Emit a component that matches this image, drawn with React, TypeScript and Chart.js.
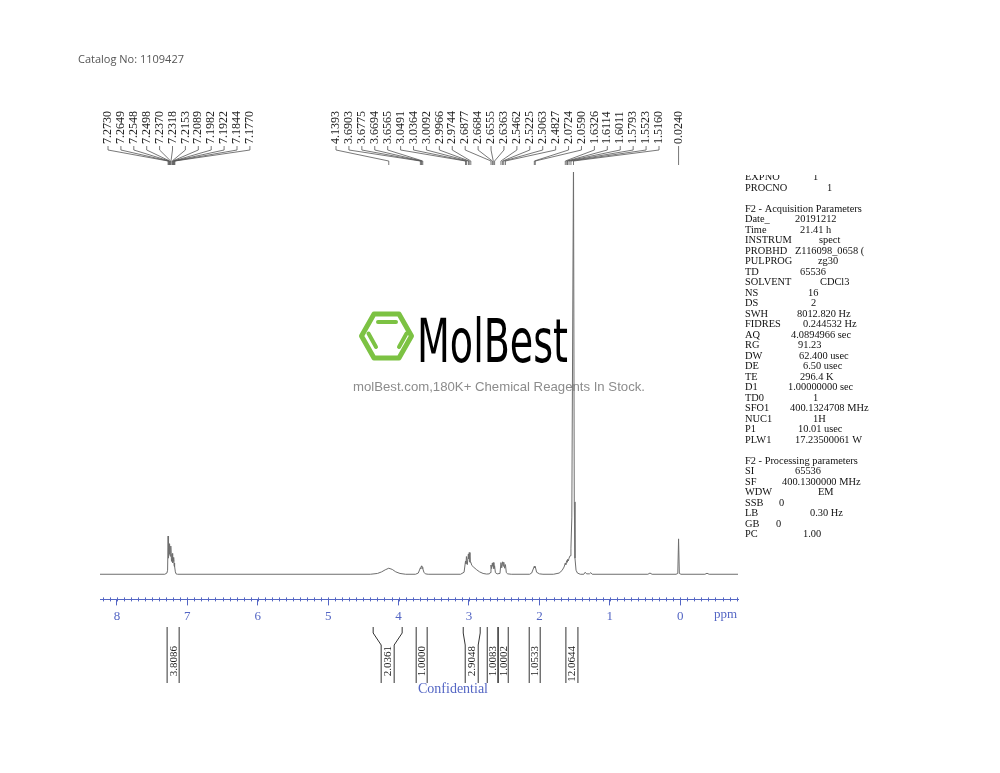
import React, { useEffect, useRef } from 'react';
import { Chart, registerables } from 'chart.js';

Chart.register(...registerables);

// ---------- DATA ----------
const spectrumPpm = [
  8.24, 7.32, 7.29, 7.28, 7.273, 7.269, 7.2649, 7.26, 7.2548, 7.252, 7.2498, 7.244, 7.237, 7.234, 7.2318,
  7.225, 7.2153, 7.212, 7.2089, 7.204, 7.1982, 7.195, 7.1922, 7.188, 7.1844, 7.181, 7.177, 7.17, 7.16, 7.14,
  4.4, 4.3, 4.24, 4.19, 4.1393, 4.09, 4.04, 3.98, 3.9,
  3.76, 3.72, 3.6903, 3.684, 3.6775, 3.673, 3.6694, 3.663, 3.6565, 3.64, 3.62, 3.58,
  3.12, 3.07, 3.0491, 3.043, 3.0364, 3.024, 3.0092, 3.003, 2.9966, 2.986, 2.9744, 2.96, 2.93, 2.89, 2.85, 2.8, 2.75,
  2.71, 2.7, 2.6877, 2.679, 2.6684, 2.662, 2.6555, 2.646, 2.6363, 2.625, 2.6,
  2.56, 2.5462, 2.535, 2.5225, 2.514, 2.5063, 2.494, 2.4827, 2.47, 2.45, 2.4,
  2.14, 2.11, 2.0724, 2.066, 2.059, 2.04, 2.0, 1.95,
  1.8, 1.72, 1.68, 1.65, 1.6326, 1.625, 1.6114, 1.606, 1.6011, 1.59, 1.5793, 1.565, 1.5523, 1.54, 1.516,
  1.505, 1.495, 1.48, 1.46, 1.42,
  1.37, 1.35, 1.33, 1.29, 1.27, 1.25,
  0.46, 0.43, 0.4,
  0.06, 0.035, 0.024, 0.013, -0.01,
  -0.35, -0.38, -0.41, -0.82,
];
const spectrumIntensity = [
  0, 0, 0.3, 1.0, 9.5, 4.0, 8.0, 5.0, 7.4, 6.0, 7.6, 4.5, 7.0, 6.0, 6.6,
  3.2, 5.0, 4.0, 5.2, 2.8, 4.0, 3.2, 4.2, 2.2, 2.8, 1.8, 2.0, 0.6, 0.1, 0,
  0, 0.2, 0.6, 1.1, 1.5, 1.2, 0.6, 0.2, 0,
  0, 0.3, 1.6, 1.4, 2.0, 1.8, 2.1, 1.7, 1.4, 0.5, 0.1, 0,
  0, 0.5, 3.3, 2.6, 4.4, 2.4, 5.0, 3.8, 5.4, 3.0, 3.0, 2.2, 1.7, 1.1, 0.6, 0.2, 0.05,
  0.1, 0.4, 2.3, 1.4, 2.8, 2.0, 2.9, 1.4, 2.1, 0.4, 0.1,
  0.2, 2.9, 1.6, 3.1, 2.0, 3.0, 1.5, 2.4, 0.4, 0.1, 0,
  0, 0.3, 2.0, 1.6, 1.9, 0.5, 0.1, 0,
  0, 0.3, 0.9, 1.8, 2.8, 2.4, 3.4, 3.0, 3.7, 3.3, 4.0, 4.6, 6.5, 14, 104,
  18, 4, 1, 0.3, 0,
  0, 0.5, 0.1, 0.1, 0.4, 0,
  0, 0.3, 0,
  0, 0.2, 8.8, 0.2, 0,
  0, 0.25, 0, 0,
];

const peaksAromatic = [7.273, 7.2649, 7.2548, 7.2498, 7.237, 7.2318, 7.2153, 7.2089, 7.1982, 7.1922, 7.1844, 7.177];
const peaksAliphatic = [
  4.1393, 3.6903, 3.6775, 3.6694, 3.6565, 3.0491, 3.0364, 3.0092, 2.9966, 2.9744, 2.6877, 2.6684, 2.6555,
  2.6363, 2.5462, 2.5225, 2.5063, 2.4827, 2.0724, 2.059, 1.6326, 1.6114, 1.6011, 1.5793, 1.5523, 1.516,
];
const peaksReference = [0.024];

const integralFrom = [7.287, 4.361, 3.75, 3.082, 2.741, 2.585, 2.145, 1.624];
const integralTo = [7.116, 3.949, 3.594, 2.841, 2.589, 2.443, 1.989, 1.453];
const integralValues = ['3.8086', '2.0361', '1.0000', '2.9048', '1.0083', '1.0002', '1.0533', '12.0644'];

const paramLabels = [
  'EXPNO', 'PROCNO', '', 'F2 - Acquisition Parameters', 'Date_', 'Time', 'INSTRUM', 'PROBHD', 'PULPROG', 'TD',
  'SOLVENT', 'NS', 'DS', 'SWH', 'FIDRES', 'AQ', 'RG', 'DW', 'DE', 'TE', 'D1', 'TD0', 'SFO1', 'NUC1', 'P1', 'PLW1',
  '', 'F2 - Processing parameters', 'SI', 'SF', 'WDW', 'SSB', 'LB', 'GB', 'PC',
];
const paramValues = [
  '1', '1', '', '', '20191212', '21.41 h', 'spect', 'Z116098_0658 (', 'zg30', '65536',
  'CDCl3', '16', '2', '8012.820 Hz', '0.244532 Hz', '4.0894966 sec', '91.23', '62.400 usec', '6.50 usec', '296.4 K',
  '1.00000000 sec', '1', '400.1324708 MHz', '1H', '10.01 usec', '17.23500061 W',
  '', '', '65536', '400.1300000 MHz', 'EM', '0', '0.30 Hz', '0', '1.00',
];
// x where each value starts (layout)
const paramValueX = [
  813, 827, 0, 0, 795, 800, 819, 795, 818, 800,
  820, 808, 811, 797, 803, 791, 798, 799, 803, 800,
  788, 813, 790, 813, 798, 795,
  0, 0, 795, 782, 818, 779, 810, 776, 803,
];

const catalogText = 'Catalog No: 1109427';
const brandText = 'MolBest';
const sloganText = 'molBest.com,180K+ Chemical Reagents In Stock.';
const watermarkText = 'Confidential';
const unitText = 'ppm';

// ---------- STYLE ----------
const BLUE = '#5466c4';
const SERIF = '"Liberation Serif", "Times New Roman", serif';

const overlayPlugin = {
  id: 'nmrOverlay',
  beforeDatasetsDraw(chart: any) {
    const ctx: CanvasRenderingContext2D = chart.ctx;
    ctx.save();
    // logo hexagon
    const cx = 386.5, cy = 336, r = 25, hh = 22;
    ctx.strokeStyle = '#7cc243';
    ctx.lineWidth = 5;
    ctx.lineJoin = 'round';
    ctx.lineCap = 'round';
    ctx.beginPath();
    ctx.moveTo(cx - r, cy);
    ctx.lineTo(cx - r / 2, cy - hh);
    ctx.lineTo(cx + r / 2, cy - hh);
    ctx.lineTo(cx + r, cy);
    ctx.lineTo(cx + r / 2, cy + hh);
    ctx.lineTo(cx - r / 2, cy + hh);
    ctx.closePath();
    ctx.stroke();
    ctx.lineWidth = 4;
    ctx.beginPath();
    ctx.moveTo(378, 322); ctx.lineTo(396, 322);
    ctx.moveTo(368.5, 333.5); ctx.lineTo(376, 347);
    ctx.moveTo(406.5, 333.5); ctx.lineTo(399, 347);
    ctx.stroke();
    // brand text
    ctx.fillStyle = '#000';
    ctx.font = '60px "DejaVu Sans"';
    ctx.textBaseline = 'alphabetic';
    ctx.textAlign = 'left';
    const w = ctx.measureText(brandText).width;
    ctx.save();
    ctx.translate(417, 362);
    ctx.scale(151 / w, 1);
    ctx.fillText(brandText, 0, 0);
    ctx.restore();
    // slogan
    ctx.fillStyle = '#8c8c8c';
    ctx.font = '13px "Liberation Sans", Arial, sans-serif';
    const sw = ctx.measureText(sloganText).width;
    ctx.save();
    ctx.translate(353, 387);
    ctx.scale(292 / sw, 1);
    ctx.textBaseline = 'middle';
    ctx.fillText(sloganText, 0, 0);
    ctx.restore();
    ctx.restore();
  },
  afterDraw(chart: any) {
    const ctx: CanvasRenderingContext2D = chart.ctx;
    const xs = chart.scales.x;
    const area = chart.chartArea;
    ctx.save();

    // minor ticks
    ctx.strokeStyle = BLUE;
    ctx.lineWidth = 1;
    ctx.beginPath();
    for (let k = -8; k <= 82; k++) {
      const px = Math.round(xs.getPixelForValue(k / 10)) + 0.5;
      ctx.moveTo(px, area.bottom - 2);
      ctx.lineTo(px, area.bottom + 2);
    }
    ctx.stroke();

    // unit label
    ctx.fillStyle = BLUE;
    ctx.font = '13px ' + SERIF;
    ctx.textAlign = 'left';
    ctx.textBaseline = 'middle';
    ctx.fillText(unitText, 714, 615);

    // peak labels
    ctx.fillStyle = '#222';
    ctx.strokeStyle = '#555';
    ctx.lineWidth = 0.8;
    ctx.font = '12px ' + SERIF;
    const drawGroup = (peaks: number[], startX: number, step: number | null) => {
      peaks.forEach((p, i) => {
        const peakX = xs.getPixelForValue(p);
        const lx = step === null ? peakX : startX + i * step;
        ctx.save();
        ctx.translate(lx, 144);
        ctx.rotate(-Math.PI / 2);
        ctx.textAlign = 'left';
        ctx.textBaseline = 'middle';
        ctx.fillText(p.toFixed(4), 0, 0);
        ctx.restore();
        ctx.beginPath();
        ctx.moveTo(lx, 146);
        ctx.lineTo(lx, 150);
        ctx.lineTo(peakX, 161);
        ctx.lineTo(peakX, 165);
        ctx.stroke();
      });
    };
    drawGroup(peaksAromatic, 108, 12.9);
    drawGroup(peaksAliphatic, 336, 12.92);
    drawGroup(peaksReference, 0, null);

    // integrals
    ctx.strokeStyle = '#333';
    ctx.lineWidth = 1;
    ctx.fillStyle = '#222';
    ctx.font = '11px ' + SERIF;
    integralFrom.forEach((f, i) => {
      const xa = xs.getPixelForValue(f);
      const xb = xs.getPixelForValue(integralTo[i]);
      const c = (xa + xb) / 2;
      const half = Math.min((xb - xa) / 2, 6.5);
      const ia = c - half, ib = c + half;
      ctx.beginPath();
      ctx.moveTo(xa, 627); ctx.lineTo(xa, 633); ctx.lineTo(ia, 645); ctx.lineTo(ia, 683);
      ctx.moveTo(xb, 627); ctx.lineTo(xb, 633); ctx.lineTo(ib, 645); ctx.lineTo(ib, 683);
      ctx.stroke();
      ctx.save();
      ctx.translate(c + 0.5, 646);
      ctx.rotate(-Math.PI / 2);
      ctx.textAlign = 'right';
      ctx.textBaseline = 'middle';
      ctx.fillText(integralValues[i], 0, 0);
      ctx.restore();
    });

    // confidential
    ctx.fillStyle = BLUE;
    ctx.font = '14px ' + SERIF;
    ctx.textAlign = 'center';
    ctx.textBaseline = 'middle';
    ctx.fillText(watermarkText, 453, 689);

    // parameters
    ctx.save();
    ctx.beginPath();
    ctx.rect(730, 175, 270, 400);
    ctx.clip();
    ctx.fillStyle = '#111';
    ctx.font = '10.4px ' + SERIF;
    ctx.textAlign = 'left';
    ctx.textBaseline = 'middle';
    paramLabels.forEach((lab, i) => {
      const y = 177.5 + i * 10.5;
      if (lab) ctx.fillText(lab, 745, y);
      if (paramValues[i]) ctx.fillText(paramValues[i], paramValueX[i], y);
    });
    ctx.restore();

    // catalog
    ctx.fillStyle = '#555';
    ctx.font = '11px "Open Sans", sans-serif';
    ctx.textAlign = 'left';
    ctx.textBaseline = 'middle';
    ctx.fillText(catalogText, 78, 60);

    ctx.restore();
  },
};

export default function App() {
  const ref = useRef<HTMLCanvasElement>(null);
  useEffect(() => {
    const canvas = ref.current!;
    const chart = new Chart(canvas, {
      type: 'line',
      data: {
        datasets: [
          {
            data: spectrumPpm.map((p, i) => ({ x: p, y: spectrumIntensity[i] })),
            borderColor: '#6e6e6e',
            borderWidth: 1,
            pointRadius: 0,
            tension: 0,
            fill: false,
          },
        ],
      },
      options: {
        animation: false,
        responsive: false,
        devicePixelRatio: 1,
        layout: { padding: { left: 100, right: 262, top: 172, bottom: 146 } },
        plugins: { legend: { display: false }, tooltip: { enabled: false } },
        scales: {
          x: {
            type: 'linear',
            reverse: true,
            min: -0.82,
            max: 8.24,
            border: { display: true, color: BLUE, width: 1 },
            grid: { drawOnChartArea: false, drawTicks: true, tickLength: 6, color: BLUE },
            ticks: {
              stepSize: 1,
              includeBounds: false,
              autoSkip: false,
              maxRotation: 0,
              padding: 3,
              color: BLUE,
              font: { family: SERIF, size: 13 },
              callback: (v: any) => String(v),
            },
          },
          y: { display: false, min: -6.25, max: 100 },
        },
      },
      plugins: [overlayPlugin],
    } as any);
    return () => chart.destroy();
  }, []);
  return (
    <div style={{ position: 'fixed', left: 0, top: 0, width: 1000, height: 773, background: '#fff' }}>
      <canvas ref={ref} width={1000} height={773} style={{ display: 'block', width: 1000, height: 773 }} />
    </div>
  );
}
